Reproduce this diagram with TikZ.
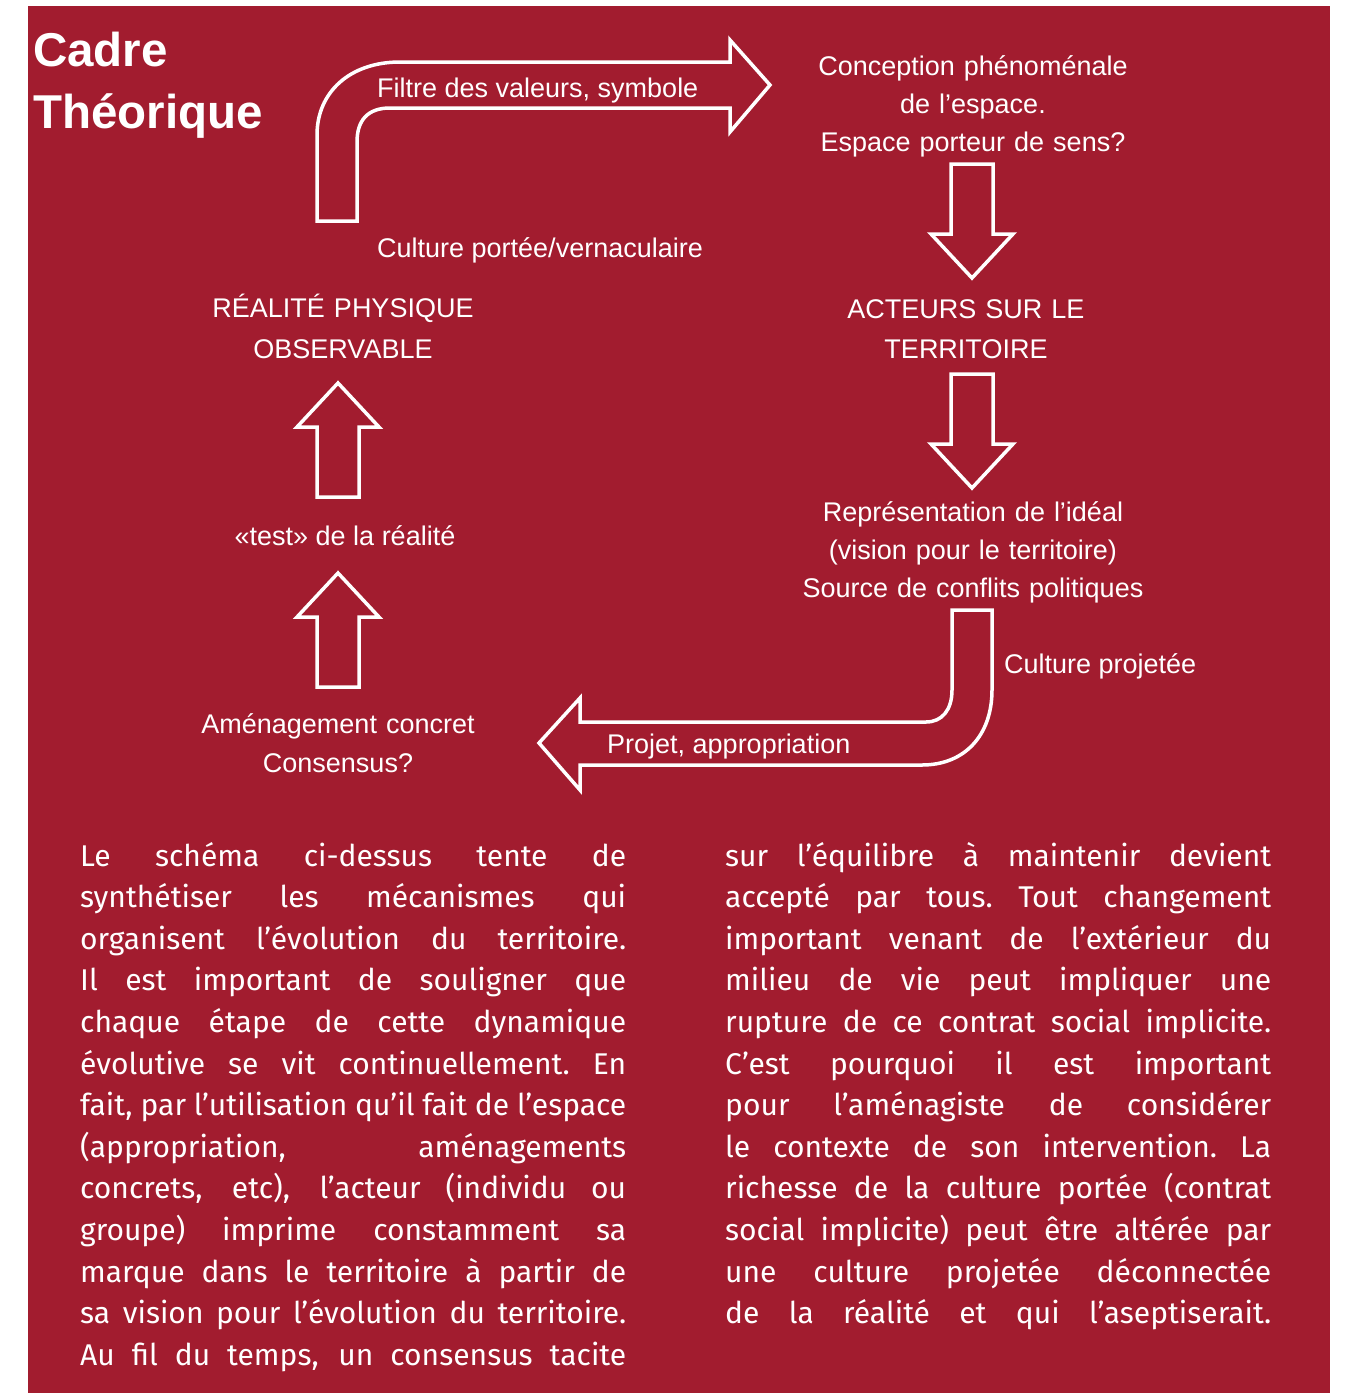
\documentclass[tikz,border=0pt]{standalone}
\usepackage{fontspec}
\setmainfont{Fira Sans}
\newfontfamily\labelfont{Liberation Sans}
\usetikzlibrary{positioning, calc}

\definecolor{cadrered}{RGB}{162,28,47}
\newcommand{\jline}[1]{\hbox to 546pt{\spaceskip=0.2em plus 1fil minus 0.08em\xspaceskip=\spaceskip #1}}

\tikzset{
  arrowline/.style={draw=white, line width=3.5pt, line join=miter},
  cyclelabel/.style={text=white, inner sep=0pt, font=\labelfont\fontsize{27}{38}\selectfont},
  stack/.style={cyclelabel, text width=380pt, align=center},
  bodycol/.style={text=white, inner sep=0pt, text width=546pt, font=\fontsize{30}{41.6}\selectfont},
  blockarrow/.pic={
    \draw[arrowline] (0,0) -- (41,44) -- (21,44) -- (21,114) -- (-21,114) -- (-21,44) -- (-41,44) -- cycle;
  }
}

\begin{document}
\begin{tikzpicture}[x=1pt, y=-1pt]
      \useasboundingbox (0,0) rectangle (1352,1393);
      % Background panel
      \fill[cadrered] (28,6) rectangle (1330,1393);
      % Title
      \node[cyclelabel, font=\labelfont\bfseries\fontsize{47.5}{62}\selectfont, text width=300pt, align=left, anchor=base west] (titre) at (33,66) {Cadre\\Théorique};
      % Stages of the cycle
      \node[stack, anchor=base] (concept) at (973,75) {Conception phénoménale\\de l’espace.\\Espace porteur de sens?};
      \node[stack, anchor=base, font=\labelfont\fontsize{27}{40}\selectfont] (acteurs) at (966,318) {ACTEURS SUR LE\\TERRITOIRE};
      \node[stack, anchor=base] (ideal) at (973,521) {Représentation de l’idéal\\(vision pour le territoire)\\Source de conflits politiques};
      \node[stack, anchor=base, font=\labelfont\fontsize{27}{41}\selectfont] (realite) at (343,317) {RÉALITÉ PHYSIQUE\\OBSERVABLE};
      \node[cyclelabel, anchor=base] (test) at (345,545) {«test» de la réalité};
      \node[stack, anchor=base, font=\labelfont\fontsize{27}{39}\selectfont] (amenag) at (338,733) {Aménagement concret\\Consensus?};
      % Arrow labels
      \node[cyclelabel, anchor=base west] (filtre) at (377,97) {Filtre des valeurs, symbole};
      \node[cyclelabel, anchor=base west] (portee) at (377,257) {Culture portée/vernaculaire};
      \node[cyclelabel, anchor=base west] (projetee) at (1004,673) {Culture projetée};
      \node[cyclelabel, anchor=base west] (projet) at (607,753) {Projet, appropriation};
      % Bent arrow, top
      \draw[arrowline] (317,221) -- (317,135) .. controls (317,92) and (350,62) .. (400,62) -- (730,62) -- (730,40) -- (770,85) -- (730,132) -- (730,108) -- (390,108) .. controls (368,108) and (357,120) .. (357,142) -- (357,221) -- cycle;
      % Straight arrows
      \pic[rotate=180] at (972,278) {blockarrow};
      \pic[rotate=180] at (972,488) {blockarrow};
      \pic at (338,383) {blockarrow};
      \pic at (338,573) {blockarrow};
      % Bent arrow, bottom
      \draw[arrowline] (952,610) -- (992,610) -- (992,690) .. controls (992,735) and (965,765) .. (922,765) -- (580,765) -- (580,790) -- (539,743) -- (580,698) -- (580,722) -- (926,722) .. controls (942,722) and (952,710) .. (952,690) -- cycle;
      % Text columns
      \node[bodycol, anchor=base west] (colA) at (80,866) {%
        \jline{Le schéma ci-dessus tente de}
        \jline{synthétiser les mécanismes qui}
        \jline{organisent l’évolution du territoire.}
        \jline{Il est important de souligner que}
        \jline{chaque étape de cette dynamique}
        \jline{évolutive se vit continuellement. En}
        \jline{fait, par l’utilisation qu’il fait de l’espace}
        \jline{(appropriation, aménagements}
        \jline{concrets, etc), l’acteur (individu ou}
        \jline{groupe) imprime constamment sa}
        \jline{marque dans le territoire à partir de}
        \jline{sa vision pour l’évolution du territoire.}
        \jline{Au fil du temps, un consensus tacite}};
      \node[bodycol, anchor=base west] (colB) at (725,866) {%
        \jline{sur l’équilibre à maintenir devient}
        \jline{accepté par tous. Tout changement}
        \jline{important venant de l’extérieur du}
        \jline{milieu de vie peut impliquer une}
        \jline{rupture de ce contrat social implicite.}
        \jline{C’est pourquoi il est important}
        \jline{pour l’aménagiste de considérer}
        \jline{le contexte de son intervention. La}
        \jline{richesse de la culture portée (contrat}
        \jline{social implicite) peut être altérée par}
        \jline{une culture projetée déconnectée}
        \jline{de la réalité et qui l’aseptiserait.}};
\end{tikzpicture}
\end{document}
